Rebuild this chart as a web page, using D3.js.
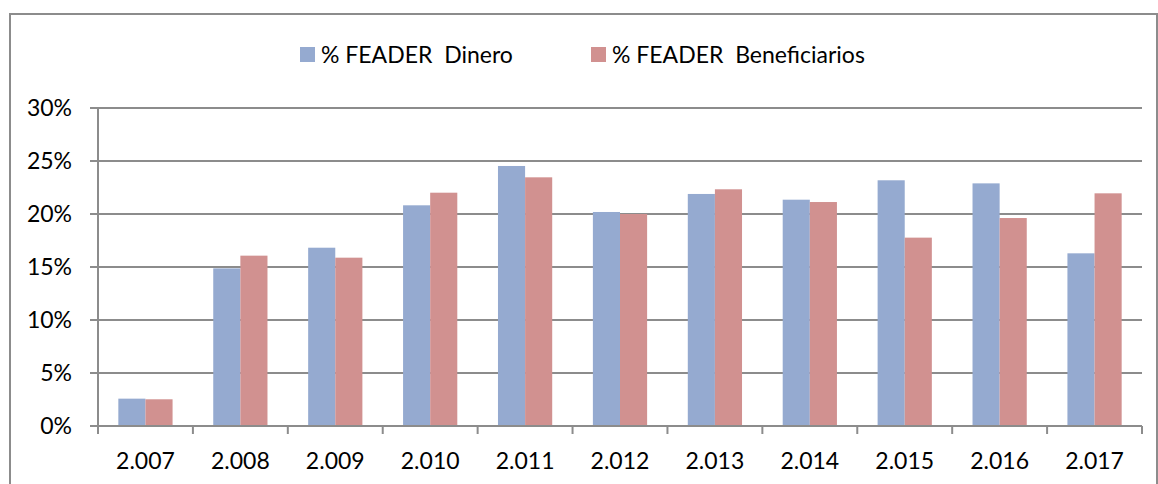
<!DOCTYPE html>
<meta charset="utf-8">
<head>
<style>
body { margin: 0; background: #fff; }
text { font-family: Lato, "Open Sans", sans-serif; fill: #000; }
.grid line { stroke: #8c8c8c; stroke-width: 2; }
.axis path, .axis line { fill: none; stroke: #8c8c8c; stroke-width: 2; }
</style>
</head>
<body>
<script src="https://cdn.jsdelivr.net/npm/d3@7"></script>
<script>

// years on the x axis
var years = ["2.007", "2.008", "2.009", "2.010", "2.011", "2.012", "2.013", "2.014", "2.015", "2.016", "2.017"];
// series (percent)
var dinero = [2.58, 14.87, 16.82, 20.82, 24.53, 20.19, 21.89, 21.35, 23.18, 22.89, 16.29];
var beneficiarios = [2.52, 16.07, 15.88, 22.01, 23.46, 20.0, 22.33, 21.13, 17.77, 19.62, 21.95];
var seriesNames = ["% FEADER  Dinero", "% FEADER  Beneficiarios"];
var colors = ["#95aad0", "#d19190"];
var yTicks = [0, 5, 10, 15, 20, 25, 30];

var W = 1158, H = 484;
var margin = { top: 108, left: 98, right: 16, bottom: 58 };
var width = 1142 - margin.left,
    height = 426 - margin.top;
var fs = "23px";

var svg = d3.select("body").append("svg")
    .attr("width", W)
    .attr("height", H);

// outer frame
svg.append("path")
    .attr("d", "M10,490 V14 H1157 V490")
    .attr("fill", "none")
    .attr("stroke", "#8c8c8c")
    .attr("stroke-width", 2);

var g = svg.append("g")
    .attr("transform", "translate(" + margin.left + "," + margin.top + ")");

var x = d3.scaleBand().domain(years).range([0, width]);
var y = d3.scaleLinear().domain([0, 30]).range([height, 0]);

// inner band for the two bars, excel gap width 150%
var x1 = d3.scaleBand().domain([0, 1])
    .range([x.bandwidth() * 0.75 / 3.5, x.bandwidth() * (0.75 + 2) / 3.5]);

// gridlines
g.append("g").attr("class", "grid")
  .selectAll("line").data(yTicks).enter().append("line")
    .attr("x1", -8).attr("x2", width)
    .attr("y1", function (d) { return y(d); })
    .attr("y2", function (d) { return y(d); });

// y axis labels
g.append("g").selectAll("text").data(yTicks).enter().append("text")
    .attr("x", -26)
    .attr("y", function (d) { return y(d); })
    .attr("dy", "0.36em")
    .attr("text-anchor", "end")
    .style("font-size", fs)
    .text(function (d) { return d + "%"; });

// bars
var data = years.map(function (yr, i) { return { year: yr, vals: [dinero[i], beneficiarios[i]] }; });
var grp = g.selectAll(".yr").data(data).enter().append("g")
    .attr("transform", function (d) { return "translate(" + x(d.year) + ",0)"; });
grp.selectAll("rect").data(function (d) { return d.vals; }).enter().append("rect")
    .attr("x", function (d, i) { return x1(i); })
    .attr("width", x1.bandwidth())
    .attr("y", function (d) { return y(d); })
    .attr("height", function (d) { return height - y(d); })
    .attr("fill", function (d, i) { return colors[i]; });

// y axis line
g.append("line")
    .attr("x1", 0).attr("x2", 0).attr("y1", 0).attr("y2", height)
    .attr("stroke", "#8c8c8c").attr("stroke-width", 2);

// x axis
var xAxis = g.append("g").attr("class", "axis")
    .attr("transform", "translate(0," + height + ")");
xAxis.append("line").attr("x1", 0).attr("x2", width).attr("y1", 0).attr("y2", 0);
xAxis.selectAll(".tk").data(d3.range(years.length + 1)).enter().append("line")
    .attr("x1", function (d) { return d * x.step(); })
    .attr("x2", function (d) { return d * x.step(); })
    .attr("y1", 0).attr("y2", 8);
xAxis.selectAll("text").data(years).enter().append("text")
    .attr("x", function (d) { return x(d) + x.bandwidth() / 2; })
    .attr("y", 43)
    .attr("text-anchor", "middle")
    .style("font-size", fs)
    .text(function (d) { return d; });

// legend
var legX = [300, 591];
var leg = svg.selectAll(".leg").data(seriesNames).enter().append("g")
    .attr("transform", function (d, i) { return "translate(" + legX[i] + ",47)"; });
leg.append("rect").attr("width", 15).attr("height", 15)
    .attr("fill", function (d, i) { return colors[i]; });
leg.append("text")
    .attr("x", 21).attr("y", 15.5)
    .style("font-size", fs)
    .style("white-space", "pre")
    .text(function (d) { return d; });

</script>
</body>
